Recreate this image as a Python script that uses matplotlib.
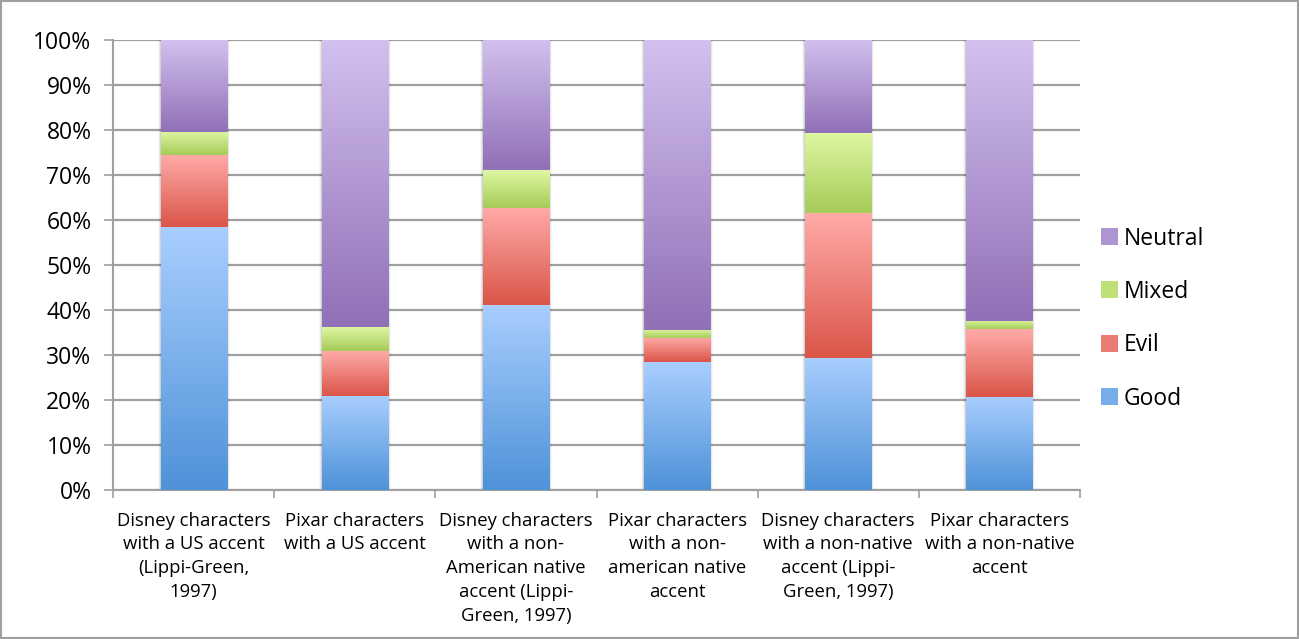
import matplotlib.pyplot as plt
import numpy as np
from matplotlib.colors import LinearSegmentedColormap, to_rgb
from matplotlib.patches import Patch, Rectangle

plt.rcParams['font.family'] = ['Open Sans', 'DejaVu Sans']

categories = [
    "Disney characters\nwith a US accent\n(Lippi-Green,\n1997)",
    "Pixar characters\nwith a US accent",
    "Disney characters\nwith a non-\nAmerican native\naccent (Lippi-\nGreen, 1997)",
    "Pixar characters\nwith a non-\namerican native\naccent",
    "Disney characters\nwith a non-native\naccent (Lippi-\nGreen, 1997)",
    "Pixar characters\nwith a non-native\naccent",
]
good = [58.4, 20.9, 41.0, 28.4, 29.4, 20.7]
evil = [16.0, 10.0, 21.7, 5.4, 32.2, 15.1]
mixed = [5.2, 5.3, 8.4, 1.8, 17.7, 1.8]
neutral = [20.4, 63.8, 28.9, 64.4, 20.7, 62.4]

series = ["Good", "Evil", "Mixed", "Neutral"]
values = [good, evil, mixed, neutral]
# (light top, dark bottom)
grads = {
    "Good": ("#a9ceff", "#4e92d8"),
    "Evil": ("#ffaaa8", "#da5548"),
    "Mixed": ("#def7a2", "#a5cb58"),
    "Neutral": ("#d3c0ef", "#9070b6"),
}

fig = plt.figure(figsize=(12.99, 6.39), dpi=100)
ax = fig.add_axes([0.087, 0.2332, 0.7444, 0.7042])

x = np.arange(len(categories))
bottom = np.zeros(len(categories))
grad = np.linspace(0, 1, 256).reshape(-1, 1)
for name, vals in zip(series, values):
    bars = ax.bar(x, vals, 0.41, bottom=bottom, color='none', edgecolor='none', zorder=3)
    cmap = LinearSegmentedColormap.from_list(name, [grads[name][1], grads[name][0]])
    for b in bars:
        bx, by = b.get_x(), b.get_y()
        bw, bh = b.get_width(), b.get_height()
        im = ax.imshow(grad, extent=[bx, bx + bw, by, by + bh], origin='lower',
                       cmap=cmap, aspect='auto', zorder=3, interpolation='bilinear')
        im.set_clip_path(b)
    bottom += np.array(vals)

# soft shadows behind the bars
for xi in x:
    for k, a in enumerate([0.10, 0.06, 0.03]):
        d = 0.006 * (k + 1)
        ax.add_patch(Rectangle((xi - 0.205 - d, 0), 0.41 + 2 * d, 100, facecolor='black',
                               alpha=a, edgecolor='none', zorder=2.5))

ax.set_xlim(-0.5, len(categories) - 0.5)
ax.set_ylim(0, 100)
ax.set_yticks(np.arange(0, 101, 10))
ax.set_yticklabels([f"{v}%" for v in range(0, 101, 10)], fontsize=16.5)
ax.yaxis.grid(True, color='#a0a0a0', linewidth=1.6, zorder=0)
ax.set_axisbelow(True)

ax.set_xticks(x)
ax.set_xticklabels(categories, fontsize=13.3, linespacing=1.42)
ax.tick_params(axis='x', length=0, pad=15.5)
ax.set_xticks(np.arange(-0.5, len(categories), 1), minor=True)
ax.tick_params(axis='x', which='minor', length=6, width=1.2, color='#a0a0a0')
ax.tick_params(axis='y', length=6.5, width=1.2, color='#a0a0a0', pad=9)

for s in ['top', 'right']:
    ax.spines[s].set_visible(False)
for s in ['left', 'bottom']:
    ax.spines[s].set_color('#a0a0a0')
    ax.spines[s].set_linewidth(1.5)

def mid(c1, c2):
    a, b = np.array(to_rgb(c1)), np.array(to_rgb(c2))
    return tuple(0.45 * a + 0.55 * b)

handles = [Patch(facecolor=mid(*grads[n]), edgecolor='none') for n in reversed(series)]
ax.legend(handles, list(reversed(series)), loc='center left', bbox_to_anchor=(1.0, 0.381),
          frameon=False, fontsize=16.5, handlelength=0.75, handleheight=0.75,
          labelspacing=1.28, handletextpad=0.25)

fig.patches.append(Rectangle((0.001, 0.001), 0.998, 0.997, transform=fig.transFigure,
                             fill=False, edgecolor='#a0a0a0', linewidth=1.5))

fig.savefig("out.png", dpi=100)
